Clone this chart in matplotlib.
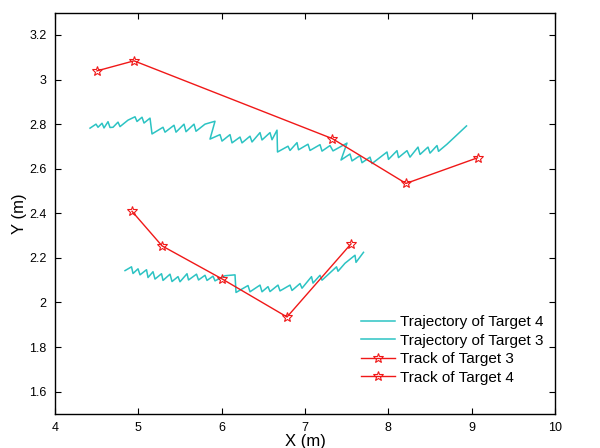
import matplotlib
matplotlib.use("Agg")
import matplotlib.pyplot as plt
from matplotlib.ticker import FormatStrFormatter

plt.rcParams['font.family'] = ['Liberation Sans', 'DejaVu Sans']

# Upper trajectory (cyan)
traj_a_x = [4.42, 4.492, 4.516, 4.564, 4.588, 4.636, 4.66, 4.696, 4.756, 4.78,
            4.876, 4.96, 4.984, 5.044, 5.068, 5.14, 5.164, 5.296, 5.32, 5.428,
            5.452, 5.548, 5.572, 5.668, 5.692, 5.80, 5.92, 5.86, 5.98, 6.004,
            6.10, 6.124, 6.22, 6.244, 6.34, 6.364, 6.46, 6.484, 6.58, 6.604,
            6.664, 6.67, 6.796, 6.82, 6.904, 6.922, 7.036, 7.06, 7.18, 7.204,
            7.30, 7.336, 7.504, 7.432, 7.54, 7.564, 7.66, 7.684, 7.78, 7.804,
            7.984, 8.002, 8.104, 8.122, 8.224, 8.26, 8.356, 8.38, 8.476, 8.50,
            8.584, 8.602, 8.704, 8.938]
traj_a_y = [2.782, 2.800, 2.786, 2.804, 2.783, 2.811, 2.785, 2.786, 2.809, 2.789,
            2.818, 2.833, 2.812, 2.831, 2.805, 2.827, 2.756, 2.786, 2.764, 2.795,
            2.764, 2.800, 2.766, 2.800, 2.768, 2.800, 2.813, 2.733, 2.753, 2.724,
            2.753, 2.716, 2.742, 2.716, 2.746, 2.720, 2.762, 2.729, 2.762, 2.730,
            2.773, 2.675, 2.701, 2.682, 2.717, 2.685, 2.710, 2.682, 2.708, 2.679,
            2.704, 2.680, 2.715, 2.639, 2.666, 2.635, 2.659, 2.627, 2.652, 2.623,
            2.675, 2.642, 2.681, 2.650, 2.681, 2.652, 2.697, 2.664, 2.697, 2.670,
            2.704, 2.678, 2.710, 2.792]

# Lower trajectory (cyan)
traj_b_x = [4.84, 4.918, 4.936, 4.996, 5.02, 5.098, 5.116, 5.176, 5.20, 5.278,
            5.296, 5.38, 5.404, 5.476, 5.50, 5.584, 5.602, 5.698, 5.722, 5.80,
            5.824, 5.896, 5.92, 6.04, 6.16, 6.172, 6.316, 6.34, 6.46, 6.484,
            6.556, 6.58, 6.676, 6.70, 6.82, 6.844, 6.94, 6.964, 7.078, 7.096,
            7.18, 7.204, 7.378, 7.396, 7.48, 7.60, 7.612, 7.702]
traj_b_y = [2.143, 2.160, 2.130, 2.151, 2.124, 2.147, 2.112, 2.138, 2.105, 2.129,
            2.099, 2.127, 2.094, 2.116, 2.093, 2.129, 2.101, 2.127, 2.101, 2.122,
            2.099, 2.118, 2.097, 2.120, 2.124, 2.045, 2.076, 2.048, 2.078, 2.048,
            2.071, 2.049, 2.078, 2.052, 2.078, 2.054, 2.085, 2.064, 2.116, 2.087,
            2.122, 2.100, 2.160, 2.140, 2.176, 2.212, 2.180, 2.225]

# Tracks (red, star markers)
track3_x = [4.504, 4.948, 7.328, 8.212, 9.07]
track3_y = [3.039, 3.084, 2.735, 2.534, 2.649]
track4_x = [4.924, 5.284, 6.008, 6.784, 7.552]
track4_y = [2.409, 2.254, 2.105, 1.935, 2.263]

labels = ["Trajectory of Target 4", "Trajectory of Target 3",
          "Track of Target 3", "Track of Target 4"]
xticks = [4, 5, 6, 7, 8, 9, 10]
yticks = [1.6, 1.8, 2.0, 2.2, 2.4, 2.6, 2.8, 3.0, 3.2]

cyan = '#2CC3C3'
red = '#F01818'

fig = plt.figure(figsize=(6.0, 4.48), dpi=100)
ax = fig.add_axes([0.0917, 0.076, 0.8333, 0.8957])

ax.plot(traj_b_x, traj_b_y, color=cyan, lw=1.1, label=labels[0])
ax.plot(traj_a_x, traj_a_y, color=cyan, lw=1.1, label=labels[1])
ax.plot(track3_x, track3_y, color=red, lw=1.0, marker='*', ms=7,
        mfc='none', mec=red, mew=0.8, label=labels[2])
ax.plot(track4_x, track4_y, color=red, lw=1.0, marker='*', ms=7,
        mfc='none', mec=red, mew=0.8, label=labels[3])

ax.set_xlim(4, 10)
ax.set_ylim(1.5, 3.3)
ax.set_xticks(xticks)
ax.set_yticks(yticks)
ax.yaxis.set_major_formatter(FormatStrFormatter('%g'))
ax.tick_params(direction='in', top=True, right=True, labelsize=9, length=4,
               width=0.8, pad=6)
for s in ax.spines.values():
    s.set_linewidth(1.0)

ax.set_xlabel('X (m)', fontsize=12, labelpad=0)
ax.set_ylabel('Y (m)', fontsize=12, labelpad=2)

leg = ax.legend(loc='upper left', bbox_to_anchor=(0.6, 0.262), frameon=False,
                fontsize=11, handlelength=2.2, labelspacing=0.3,
                handletextpad=0.35, borderaxespad=0)

fig.savefig('out.png', dpi=100)
